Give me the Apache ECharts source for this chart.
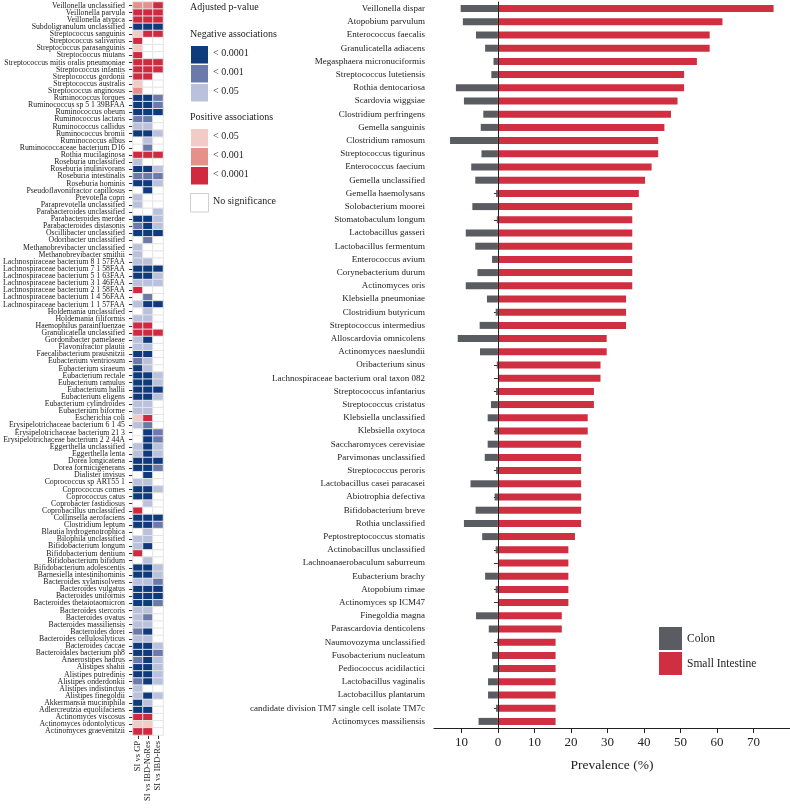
<!DOCTYPE html>
<html>
<head>
<meta charset="utf-8">
<script src="https://cdn.jsdelivr.net/npm/echarts@6/dist/echarts.min.js"></script>
<style>
  html, body { margin: 0; padding: 0; background: #fff; }
  #chart { width: 790px; height: 808px; }
</style>
</head>
<body>
<div id="chart"></div>
<script>
// heatmap rows (top to bottom)
var taxa = [
  'Veillonella unclassified', 'Veillonella parvula', 'Veillonella atypica', 'Subdoligranulum unclassified',
  'Streptococcus sanguinis', 'Streptococcus salivarius', 'Streptococcus parasanguinis', 'Streptococcus mutans',
  'Streptococcus mitis oralis pneumoniae', 'Streptococcus infantis', 'Streptococcus gordonii', 'Streptococcus australis',
  'Streptococcus anginosus', 'Ruminococcus torques', 'Ruminococcus sp 5 1 39BFAA', 'Ruminococcus obeum',
  'Ruminococcus lactaris', 'Ruminococcus callidus', 'Ruminococcus bromii', 'Ruminococcus albus',
  'Ruminococcaceae bacterium D16', 'Rothia mucilaginosa', 'Roseburia unclassified', 'Roseburia inulinivorans',
  'Roseburia intestinalis', 'Roseburia hominis', 'Pseudoflavonifractor capillosus', 'Prevotella copri',
  'Paraprevotella unclassified', 'Parabacteroides unclassified', 'Parabacteroides merdae', 'Parabacteroides distasonis',
  'Oscillibacter unclassified', 'Odoribacter unclassified', 'Methanobrevibacter unclassified', 'Methanobrevibacter smithii',
  'Lachnospiraceae bacterium 8 1 57FAA', 'Lachnospiraceae bacterium 7 1 58FAA', 'Lachnospiraceae bacterium 5 1 63FAA',
  'Lachnospiraceae bacterium 3 1 46FAA', 'Lachnospiraceae bacterium 2 1 58FAA', 'Lachnospiraceae bacterium 1 4 56FAA',
  'Lachnospiraceae bacterium 1 1 57FAA', 'Holdemania unclassified', 'Holdemania filiformis', 'Haemophilus parainfluenzae',
  'Granulicatella unclassified', 'Gordonibacter pamelaeae', 'Flavonifractor plautii', 'Faecalibacterium prausnitzii',
  'Eubacterium ventriosum', 'Eubacterium siraeum', 'Eubacterium rectale', 'Eubacterium ramulus', 'Eubacterium hallii',
  'Eubacterium eligens', 'Eubacterium cylindroides', 'Eubacterium biforme', 'Escherichia coli',
  'Erysipelotrichaceae bacterium 6 1 45', 'Erysipelotrichaceae bacterium 21 3', 'Erysipelotrichaceae bacterium 2 2 44A',
  'Eggerthella unclassified', 'Eggerthella lenta', 'Dorea longicatena', 'Dorea formicigenerans', 'Dialister invisus',
  'Coprococcus sp ART55 1', 'Coprococcus comes', 'Coprococcus catus', 'Coprobacter fastidiosus', 'Coprobacillus unclassified',
  'Collinsella aerofaciens', 'Clostridium leptum', 'Blautia hydrogenotrophica', 'Bilophila unclassified',
  'Bifidobacterium longum', 'Bifidobacterium dentium', 'Bifidobacterium bifidum', 'Bifidobacterium adolescentis',
  'Barnesiella intestinihominis', 'Bacteroides xylanisolvens', 'Bacteroides vulgatus', 'Bacteroides uniformis',
  'Bacteroides thetaiotaomicron', 'Bacteroides stercoris', 'Bacteroides ovatus', 'Bacteroides massiliensis',
  'Bacteroides dorei', 'Bacteroides cellulosilyticus', 'Bacteroides caccae', 'Bacteroidales bacterium ph8',
  'Anaerostipes hadrus', 'Alistipes shahii', 'Alistipes putredinis', 'Alistipes onderdonkii', 'Alistipes indistinctus',
  'Alistipes finegoldii', 'Akkermansia muciniphila', 'Adlercreutzia equolifaciens', 'Actinomyces viscosus',
  'Actinomyces odontolyticus', 'Actinomyces graevenitzii'
];
var comparisons = ['SI vs GP', 'SI vs IBD-NoRes', 'SI vs IBD-Res'];

// association codes: -3/-2/-1 negative (<0.0001/<0.001/<0.05), 0 none, 1/2/3 positive (<0.05/<0.001/<0.0001)
var siVsGP = [
  2, 3, 3, -3, 1, 3, 1, 3, 3, 3, 3, 1, 2, -3, -3, -3, -2, -1, -3, 0,
  0, 3, -1, -3, -2, -3, 0, -1, -1, 0, -3, -2, -3, 0, -1, -1, -1, -3, -3, -1,
  3, 0, -1, 0, -1, 3, 3, -1, -1, -3, -2, -3, -3, -3, -3, -3, -1, -1, 1, -1,
  0, 0, -1, -1, -3, -3, 0, -1, -3, -3, 0, 3, -3, -3, 0, -1, -1, 3, 0, -3,
  -3, -1, -3, -3, -3, -1, -1, -1, -2, -1, -3, -3, -2, -3, -3, -2, -1, -1, -3, -3,
  3, 1, 3
];
var siVsIbdNoRes = [
  2, 3, 3, -3, 3, 0, 0, 0, 3, 3, 3, 0, 0, -3, -3, -3, -2, -1, -3, -1,
  -2, 3, 0, -3, -2, -3, -3, 0, 0, 0, -3, -3, -3, -2, 0, 0, -1, -3, -3, -1,
  0, -2, -3, -1, -1, 3, 3, -3, -1, -3, -1, -1, -3, -3, -3, -3, -1, -1, 3, -2,
  -3, -3, -3, -3, -3, -3, -3, -1, -3, -3, -1, 0, -3, -3, -1, -1, -3, 0, -1, -3,
  -3, -1, -3, -3, -3, -1, -2, -1, -3, -1, -3, -3, -3, -3, -3, -3, 0, -3, -1, -3,
  3, 1, 3
];
var siVsIbdRes = [
  3, 3, 3, -3, 3, 0, 0, 0, 3, 3, 0, 0, 0, -2, -2, -3, 0, 0, -1, 0,
  0, 3, 0, -1, -2, -1, 0, 0, 0, -1, -1, -1, -3, 0, 0, 0, 0, -3, -1, -1,
  0, 0, -3, 0, 0, 0, 3, 0, 0, 0, 0, 0, -1, -1, -3, -1, 0, 0, 0, 0,
  -2, -2, -1, -1, -3, -2, 0, 0, -1, 0, 0, 0, -3, -2, 0, 0, 0, 0, 0, -1,
  -1, -2, -3, -3, -2, 0, 0, 0, 0, 0, -1, -2, -1, -1, -1, -1, 0, -1, 0, 0,
  0, 0, 0
];

// prevalence bar chart (top to bottom)
var species = [
  'Veillonella dispar', 'Atopobium parvulum', 'Enterococcus faecalis', 'Granulicatella adiacens',
  'Megasphaera micronuciformis', 'Streptococcus lutetiensis', 'Rothia dentocariosa', 'Scardovia wiggsiae',
  'Clostridium perfringens', 'Gemella sanguinis', 'Clostridium ramosum', 'Streptococcus tigurinus',
  'Enterococcus faecium', 'Gemella unclassified', 'Gemella haemolysans', 'Solobacterium moorei',
  'Stomatobaculum longum', 'Lactobacillus gasseri', 'Lactobacillus fermentum', 'Enterococcus avium',
  'Corynebacterium durum', 'Actinomyces oris', 'Klebsiella pneumoniae', 'Clostridium butyricum',
  'Streptococcus intermedius', 'Alloscardovia omnicolens', 'Actinomyces naeslundii', 'Oribacterium sinus',
  'Lachnospiraceae bacterium oral taxon 082', 'Streptococcus infantarius', 'Streptococcus cristatus',
  'Klebsiella unclassified', 'Klebsiella oxytoca', 'Saccharomyces cerevisiae', 'Parvimonas unclassified',
  'Streptococcus peroris', 'Lactobacillus casei paracasei', 'Abiotrophia defectiva', 'Bifidobacterium breve',
  'Rothia unclassified', 'Peptostreptococcus stomatis', 'Actinobacillus unclassified', 'Lachnoanaerobaculum saburreum',
  'Eubacterium brachy', 'Atopobium rimae', 'Actinomyces sp ICM47', 'Finegoldia magna', 'Parascardovia denticolens',
  'Naumovozyma unclassified', 'Fusobacterium nucleatum', 'Pediococcus acidilactici', 'Lactobacillus vaginalis',
  'Lactobacillus plantarum', 'candidate division TM7 single cell isolate TM7c', 'Actinomyces massiliensis'
];
var colonPrev = [
  10.2, 9.6, 6.0, 3.5, 1.2, 1.8, 11.5, 9.3, 4.0, 4.7,
  13.1, 4.5, 7.3, 6.2, 0.5, 7.0, 0.3, 8.8, 6.2, 1.6,
  5.6, 8.8, 3.0, 0.6, 5.0, 11.0, 4.9, 0.3, 0.0, 0.5,
  1.9, 2.8, 0.9, 2.8, 3.6, 0.5, 7.5, 0.9, 6.1, 9.3,
  4.3, 0.6, 0.0, 3.5, 0.6, 0.0, 6.0, 2.5, 0.2, 1.6,
  1.3, 2.7, 2.7, 0.5, 5.3
];
var siPrev = [
  75.5, 61.5, 58.0, 58.0, 54.5, 51.0, 51.0, 49.2, 47.4, 45.6,
  43.9, 43.9, 42.1, 40.3, 38.6, 36.8, 36.8, 36.8, 36.8, 36.8,
  36.8, 36.8, 35.1, 35.1, 35.1, 29.8, 29.8, 28.1, 28.1, 26.3,
  26.3, 24.6, 24.6, 22.8, 22.8, 22.8, 22.8, 22.8, 22.8, 22.8,
  21.1, 19.3, 19.3, 19.3, 19.3, 19.3, 17.5, 17.5, 15.8, 15.8,
  15.8, 15.8, 15.8, 15.8, 15.8
];

var FONT = 'Liberation Serif';
var TXT = '#222';
var codeColors = {
  '-3': '#0f3b7d', '-2': '#6c7aab', '-1': '#b9c1dc',
  '0': '#ffffff',
  '1': '#f3cbc6', '2': '#e5918a', '3': '#d02a40'
};

var heatData = [];
[siVsGP, siVsIbdNoRes, siVsIbdRes].forEach(function (col, ci) {
  col.forEach(function (v, ri) { heatData.push([ci, ri, v]); });
});

// p-value legend built with graphic elements
var legendItems = [];
function legendText(x, y, s) {
  legendItems.push({ type: 'text', left: x, top: y - 6,
    style: { text: s, fill: TXT, font: '10px ' + FONT } });
}
function legendBox(y, c, stroke) {
  legendItems.push({ type: 'rect', left: 190, top: y,
    shape: { width: 18, height: 18.5 },
    style: { fill: c, stroke: stroke || '#fff', lineWidth: 1 } });
}
legendText(190, 8, 'Adjusted p-value');
legendText(190, 35, 'Negative associations');
legendBox(45, codeColors['-3']); legendText(213, 54, '< 0.0001');
legendBox(64, codeColors['-2']); legendText(213, 73, '< 0.001');
legendBox(83, codeColors['-1']); legendText(213, 92, '< 0.05');
legendText(190, 118, 'Positive associations');
legendBox(128, codeColors['1']); legendText(213, 137, '< 0.05');
legendBox(147, codeColors['2']); legendText(213, 156, '< 0.001');
legendBox(166, codeColors['3']); legendText(213, 175, '< 0.0001');
legendBox(193, '#fff', '#cfcfcf'); legendText(213, 202, 'No significance');

var chart = echarts.init(document.getElementById('chart'));
chart.setOption({
  backgroundColor: '#fff',
  animation: false,
  textStyle: { fontFamily: FONT, color: TXT },
  grid: [
    { left: 130.5, top: 2, width: 32.5, height: 733 },
    { left: 434, top: 2, right: 0, height: 726 }
  ],
  xAxis: [
    {
      gridIndex: 0, type: 'category', data: comparisons, position: 'bottom',
      axisLine: { show: false },
      axisTick: { show: true, alignWithLabel: true, length: 4, lineStyle: { color: '#333' } },
      axisLabel: { rotate: 90, fontSize: 8.5, color: TXT, fontFamily: FONT, margin: 6, interval: 0 },
      splitLine: { show: false }
    },
    {
      gridIndex: 1, type: 'value', min: -17.5, max: 80, splitNumber: 10,
      axisLine: { show: true, lineStyle: { color: '#222', width: 1 } },
      axisTick: { show: true, length: 5, lineStyle: { color: '#222' } },
      axisLabel: {
        fontSize: 13, color: TXT, fontFamily: FONT, margin: 8,
        showMinLabel: false, showMaxLabel: false,
        formatter: function (v) { return v % 10 === 0 ? String(Math.abs(v)) : ''; }
      },
      splitLine: { show: false },
      name: 'Prevalence (%)', nameLocation: 'middle', nameGap: 30,
      nameTextStyle: { fontSize: 13.5, color: TXT, fontFamily: FONT }
    }
  ],
  yAxis: [
    {
      gridIndex: 0, type: 'category', data: taxa, inverse: true,
      axisLine: { show: false },
      axisTick: { show: true, alignWithLabel: true, length: 4, lineStyle: { color: '#333' } },
      axisLabel: { fontSize: 7.8, color: TXT, fontFamily: FONT, margin: 8, interval: 0 },
      splitLine: { show: false }
    },
    {
      gridIndex: 1, type: 'category', data: species, inverse: true,
      axisLine: { show: true, lineStyle: { color: '#222', width: 1 } },
      axisTick: { show: true, alignWithLabel: true, length: 4, lineStyle: { color: '#333' } },
      axisLabel: { fontSize: 9, color: TXT, fontFamily: FONT, margin: 9, interval: 0 },
      splitLine: { show: false }
    }
  ],
  visualMap: {
    show: false, type: 'piecewise', seriesIndex: 0, dimension: 2,
    pieces: [-3, -2, -1, 0, 1, 2, 3].map(function (v) {
      return { value: v, color: codeColors[String(v)] };
    })
  },
  legend: {
    data: ['Colon', 'Small Intestine'],
    orient: 'vertical', left: 659, top: 627, padding: 0,
    icon: 'rect', itemWidth: 23, itemHeight: 23, itemGap: 2,
    textStyle: { fontSize: 11.5, color: TXT, fontFamily: FONT },
    selectedMode: false
  },
  series: [
    {
      type: 'heatmap', xAxisIndex: 0, yAxisIndex: 0, data: heatData,
      itemStyle: { borderColor: '#e4e4e4', borderWidth: 1 },
      emphasis: { disabled: true }, silent: true
    },
    {
      name: 'Colon', type: 'bar', xAxisIndex: 1, yAxisIndex: 1,
      data: colonPrev.map(function (v) { return -v; }),
      barWidth: 7, barGap: '-100%',
      itemStyle: { color: '#5b5c61' }, silent: true
    },
    {
      name: 'Small Intestine', type: 'bar', xAxisIndex: 1, yAxisIndex: 1,
      data: siPrev, barWidth: 7, barGap: '-100%',
      itemStyle: { color: '#cf2f40' }, silent: true,
      markLine: {
        silent: true, symbol: 'none', label: { show: false },
        lineStyle: { color: '#222', width: 1, type: 'solid' },
        data: [{ xAxis: 0 }]
      }
    }
  ],
  graphic: legendItems
});
</script>
</body>
</html>
